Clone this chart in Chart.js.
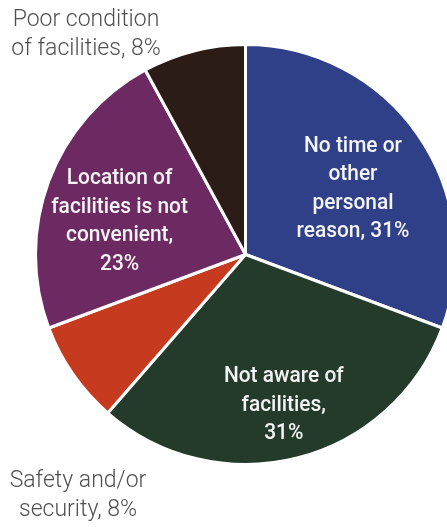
<!DOCTYPE html>
<html lang="en">

<head>
    <meta charset="UTF-8">
    <title>Reasons for not using facilities</title>
    <script src="https://cdn.jsdelivr.net/npm/chart.js"></script>
    <style>
        body {
            margin: 0;
            background: #fff;
            overflow: hidden;
        }
        #chart-container {
            position: absolute;
            left: 0;
            top: 0;
            width: 470px;
            height: 527px;
        }
    </style>
</head>

<body>
    <div id="chart-container">
        <canvas id="pieChart"></canvas>
    </div>

    <script>
        // slices, clockwise from 12 o'clock
        const reasons = [
            'No time or other personal reason',
            'Not aware of facilities',
            'Safety and/or security',
            'Location of facilities is not convenient',
            'Poor condition of facilities'
        ];
        const shares = [31, 31, 8, 23, 8];
        // text shown on each slice (null = label sits outside the pie)
        const sliceLabels = [
            ['No time or', 'other', 'personal', 'reason, 31%'],
            ['Not aware of', 'facilities,', '31%'],
            null,
            ['Location of', 'facilities is not', 'convenient,', '23%'],
            null
        ];
        const outsideLabels = [
            { lines: ['Poor condition', 'of facilities, 8%'], x: 86, y: 20 },
            { lines: ['Safety and/or', 'security, 8%'], x: 78, y: 481 }
        ];

        const colors = ['#2f4088', '#243b2b', '#c63b1f', '#6d2a62', '#2b1c18'];
        // where the inner text sits: fraction along the slice's sweep, fraction of radius
        const labelSweep = [0.53, 0.5, 0.5, 0.43, 0.5];
        const labelRadius = [0.6, 0.74, 0.6, 0.62, 0.6];

        const sliceText = {
            id: 'sliceText',
            afterDatasetsDraw(chart) {
                const ctx = chart.ctx;
                const arcs = chart.getDatasetMeta(0).data;
                ctx.save();
                ctx.textAlign = 'center';
                ctx.textBaseline = 'middle';
                ctx.fillStyle = '#f4f4f4';
                ctx.font = '500 22px Roboto';
                arcs.forEach((arc, i) => {
                    const lines = sliceLabels[i];
                    if (!lines) return;
                    const a = arc.startAngle + (arc.endAngle - arc.startAngle) * labelSweep[i];
                    const r = arc.outerRadius * labelRadius[i];
                    const cx = arc.x + Math.cos(a) * r;
                    const cy = arc.y + Math.sin(a) * r;
                    const lh = 28.5;
                    lines.forEach((line, j) => {
                        const y = cy + (j - (lines.length - 1) / 2) * lh;
                        ctx.save();
                        ctx.translate(cx, y);
                        ctx.scale(0.95, 1);
                        ctx.fillText(line, 0, 0);
                        ctx.restore();
                    });
                });

                ctx.fillStyle = '#505050';
                ctx.font = '300 23px Roboto';
                outsideLabels.forEach(lab => {
                    lab.lines.forEach((line, j) => {
                        ctx.fillText(line, lab.x, lab.y + j * 29.5);
                    });
                });
                ctx.restore();
            }
        };

        const ctx = document.getElementById('pieChart').getContext('2d');
        const pieChart = new Chart(ctx, {
            type: 'pie',
            data: {
                labels: reasons,
                datasets: [{
                    data: shares,
                    backgroundColor: colors,
                    borderColor: '#ffffff',
                    borderWidth: 3
                }]
            },
            options: {
                responsive: true,
                maintainAspectRatio: false,
                animation: false,
                layout: {
                    padding: { left: 34, right: 13, top: 43, bottom: 61 }
                },
                plugins: {
                    legend: { display: false },
                    tooltip: { enabled: false }
                }
            },
            plugins: [sliceText]
        });
    </script>
</body>

</html>
